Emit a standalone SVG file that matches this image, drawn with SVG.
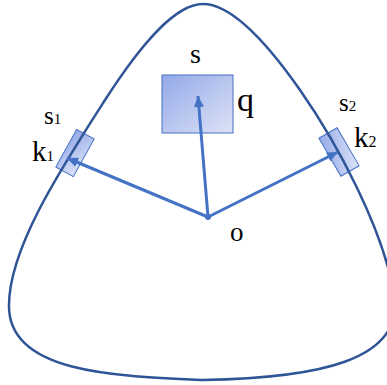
<svg xmlns="http://www.w3.org/2000/svg" width="387" height="385" viewBox="0 0 387 385">
<style>
.lbl{font-family:"Liberation Serif","Times New Roman",serif;fill:#000}
.box{fill:url(#g);stroke:#4472C4;stroke-width:1}
.arr{stroke:#4472C4;stroke-width:3;fill:none;marker-end:url(#ah)}
</style>
<defs>
<linearGradient id="g" x1="0" y1="0" x2="1" y2="1">
<stop offset="0" stop-color="#93A8E8"/>
<stop offset="1" stop-color="#DDE3F6"/>
</linearGradient>
<marker id="ah" markerUnits="userSpaceOnUse" markerWidth="12" markerHeight="10" refX="11" refY="5" orient="auto">
<path d="M0,0 L11,5 L0,10 Z" fill="#4472C4"/>
</marker>
</defs>
<rect width="387" height="385" fill="#fff"/>
<g id="k1box"><rect class="box" x="-10" y="-21.5" width="20" height="43" transform="translate(75,153) rotate(29)"/></g>
<g id="k2box"><rect class="box" x="-10.5" y="-22" width="21" height="44" transform="translate(339,152) rotate(-30)"/></g>
<g id="qbox"><rect class="box" x="162" y="75" width="71" height="58"/></g>
<g id="boundary">
<path d="M203,380 C110,376 10,372 9,307 C8,250 60,170 105,100 C141,44 175,4 203,4 C231,4 265,40 300,90 C335,140 385,230 395,300 C400,360 320,378 203,380 Z" fill="none" stroke="#2F5597" stroke-width="2.5"/>
</g>
<g id="connectors">
<line class="arr" x1="208" y1="217" x2="67" y2="158"/>
<line class="arr" x1="208" y1="217" x2="198" y2="96"/>
<line class="arr" x1="208" y1="217" x2="338" y2="152"/>
</g>
<g id="origin"><circle cx="208" cy="217" r="3" fill="#4472C4"/><text class="lbl" x="230" y="241" font-size="27">o</text></g>
<g id="labels">
<text class="lbl" x="190" y="63" font-size="28">s</text>
<text class="lbl" x="237" y="111" font-size="34">q</text>
<text class="lbl" x="44" y="124" font-size="25">s<tspan font-size="15">1</tspan></text>
<text class="lbl" x="32" y="161" font-size="29">k<tspan font-size="15">1</tspan></text>
<text class="lbl" x="339" y="111" font-size="25">s<tspan font-size="15">2</tspan></text>
<text class="lbl" x="354" y="147" font-size="29">k<tspan font-size="16">2</tspan></text>
</g>
</svg>
